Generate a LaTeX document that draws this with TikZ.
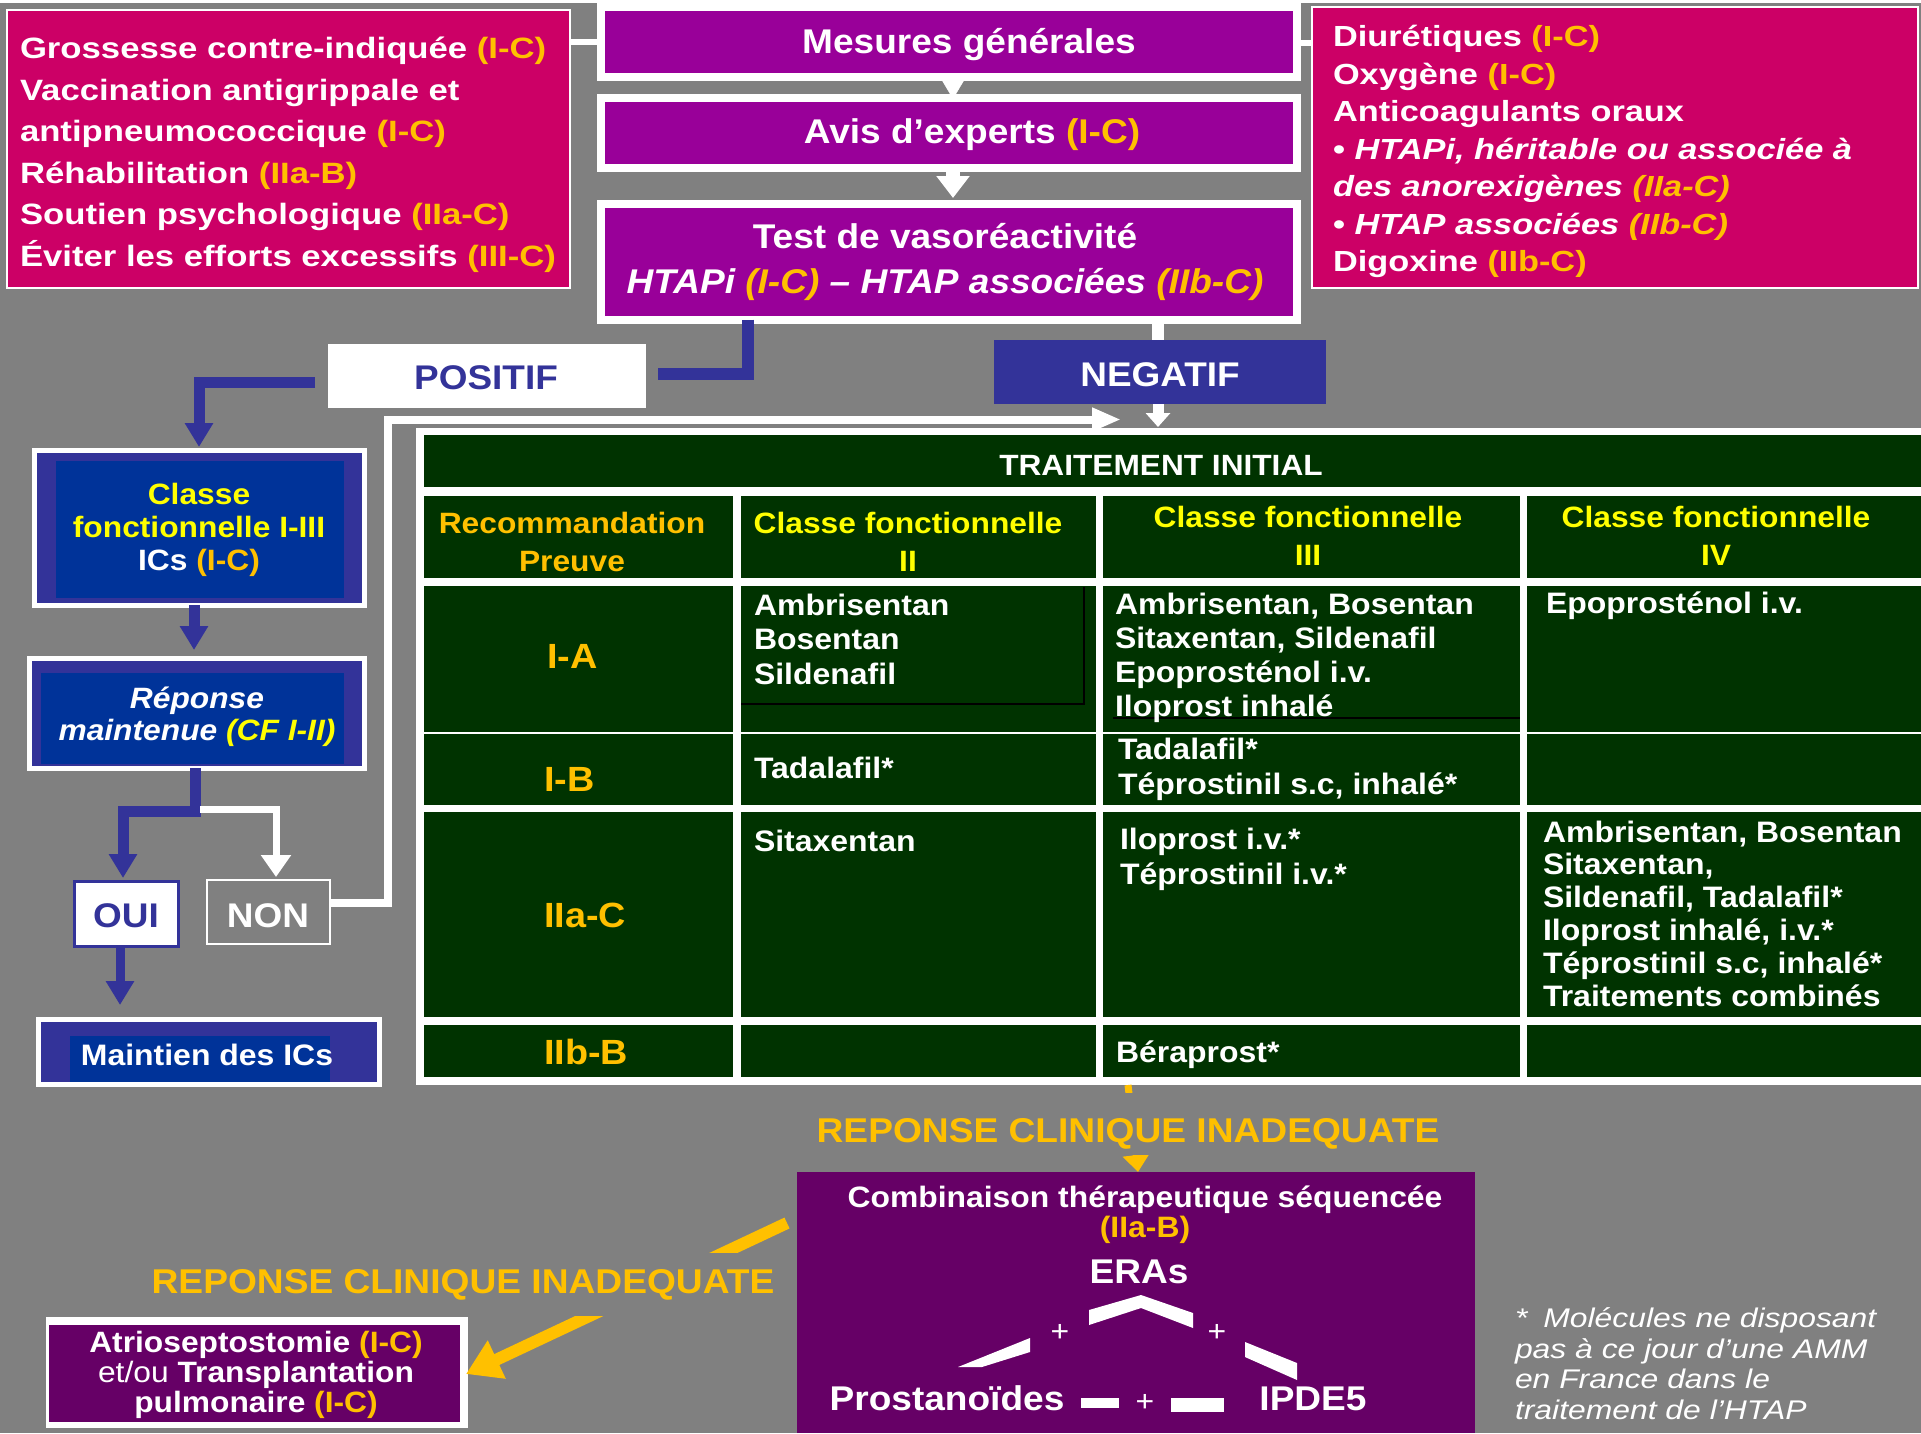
\documentclass[tikz,border=0pt]{standalone}
\usepackage{fontspec}
\setmainfont{Liberation Sans}[FakeStretch=1.08]
\newfontfamily\wfont{Liberation Sans}[FakeStretch=1.18]
\usetikzlibrary{arrows.meta,calc}
\definecolor{bgg}{HTML}{808080}
\definecolor{pnk}{HTML}{CC0066}
\definecolor{pur}{HTML}{990099}
\definecolor{dpur}{HTML}{660066}
\definecolor{bl}{HTML}{333399}
\definecolor{dbl}{HTML}{003399}
\definecolor{grn}{HTML}{003300}
\definecolor{og}{HTML}{FFC000}
\definecolor{yl}{HTML}{FFFF00}
\newcommand\gold[1]{\textcolor{og}{#1}}
\newcommand\fsz[2]{\fontsize{#1}{#2}\selectfont}
\newcommand\Lstk[1]{\vtop{\lineskiplimit=-100pt\lineskip=0pt\halign{##\hfil\cr#1\crcr}}}
\newcommand\Cstk[1]{\vtop{\lineskiplimit=-100pt\lineskip=0pt\halign{\hfil##\hfil\cr#1\crcr}}}
\tikzset{
  boxframe/.style={draw=white, inner sep=0pt, outer sep=0pt, anchor=north west},
  txt/.style={inner sep=0pt, outer sep=0pt, text=white},
  bline/.style={draw=bl, line width=12pt},
  barrow/.style={draw=bl, line width=11pt, -{Triangle[width=27pt,length=24pt]}},
  wline/.style={draw=white, line width=8pt},
  cellA/.style={txt, anchor=base west, font=\fsz{29.6}{34.5}\bfseries},
}
\begin{document}
\begin{tikzpicture}[x=1pt,y=-1pt]
\useasboundingbox (0,0) rectangle (1921,1433);
\fill[bgg] (0,0) rectangle (1921,1433);
\fill[white] (0,0) rectangle (1921,2.5);

% ---------- top boxes
\node[boxframe, line width=2pt, fill=pnk, minimum width=563pt, minimum height=278pt] (lp) at (7,10) {};
\node[boxframe, line width=2pt, fill=pnk, minimum width=606pt, minimum height=281pt] (rp) at (1312,7) {};
\node[boxframe, line width=8pt, fill=pur, minimum width=696pt, minimum height=70pt] (mes) at (601,7) {};
\node[boxframe, line width=8pt, fill=pur, minimum width=696pt, minimum height=70pt] (avis) at (601,98) {};
\node[boxframe, line width=8pt, fill=pur, minimum width=696pt, minimum height=115.5pt] (test) at (601,204) {};

\draw[wline, line width=6pt] ($(lp.north east)+(0,32)$) -- ($(mes.north west)+(0,35)$);
\draw[wline, line width=6pt] ($(mes.north east)+(0,36)$) -- ($(rp.north west)+(0,36)$);
\draw[white, line width=0.5pt, -{Triangle[width=26pt,length=22pt]}] ($(mes.south west)+(352,0)$) -- ($(avis.north west)+(352,1)$);
\draw[white, line width=14pt, -{Triangle[width=32pt,length=22pt]}] ($(avis.south west)+(352,0)$) -- ($(test.north west)+(352,-6)$);

% ---------- positif / negatif
\node[boxframe, draw=none, fill=white, minimum width=318pt, minimum height=64pt] (pos) at (328,344) {};
\node[boxframe, draw=none, fill=bl, minimum width=332pt, minimum height=64pt] (neg) at (994,340) {};

% ---------- left column boxes
\node[boxframe, line width=5pt, fill=bl, minimum width=330pt, minimum height=155pt] (cls) at (34,450) {};
\fill[dbl] (56,461) rectangle (344,598);
\node[boxframe, line width=5pt, fill=bl, minimum width=335pt, minimum height=110pt] (rep) at (29,658) {};
\fill[dbl] (41,673) rectangle (344,764);
\node[boxframe, draw=bl, line width=3pt, fill=white, minimum width=104pt, minimum height=65pt] (oui) at (74,881) {};
\node[boxframe, line width=2.5pt, fill=bgg, minimum width=123pt, minimum height=64pt] (non) at (207,880) {};
\node[boxframe, line width=5pt, fill=bl, minimum width=341pt, minimum height=65pt] (mnt) at (38,1019.5) {};
\fill[dbl] (70,1036) rectangle (330,1082);

% ---------- table
\node[boxframe, draw=none, fill=white, minimum width=1505pt, minimum height=657pt] (tab) at (416,428) {};
\fill[grn] (424,435) rectangle (1921,487);
\foreach \ya/\yb in {496/578, 586/732, 734/805, 812/1017, 1025/1077}{
  \fill[grn] (424,\ya) rectangle (733,\yb);
  \fill[grn] (741,\ya) rectangle (1096,\yb);
  \fill[grn] (1103,\ya) rectangle (1520,\yb);
  \fill[grn] (1527,\ya) rectangle (1921,\yb);
}
\draw[black, line width=2pt] (741,704) -- (1084,704) -- (1084,587);
\draw[black, line width=2pt] (1113,718) -- (1520,718);

% ---------- connectors
\draw[bline] ($(test.south west)+(147,0)$) |- ($(pos.east)+(12,-2)$);
\draw[barrow, line width=11pt] ($(pos.west)+(-13,6.5)$) -| ($(cls.north west)+(165,-3)$);
\draw[barrow] ($(cls.south west)+(160,0)$) -- ($(rep.north west)+(165,-8)$);
\draw[barrow] ($(rep.south west)+(166,0)$) -- ++(0,43) -| ($(oui.north west)+(49,-3)$);
\draw[white, line width=7pt, -{Triangle[width=29pt,length=22pt]}] ($(rep.south west)+(171,41.5)$) -| ($(non.north west)+(69,-3)$);
\draw[barrow, line width=9pt] ($(oui.south west)+(46,0)$) -- ($(mnt.north west)+(82,-14.5)$);
\coordinate (ntip) at (1121,419.5);
\draw[white, line width=8pt, -{Triangle[width=22pt,length=29pt]}] ($(non.north east)+(0,23)$) -- ++(58,0) |- (ntip);
\draw[white, line width=12pt] ($(test.south west)+(557,0)$) -- ($(neg.north west)+(164,0)$);
\draw[white, line width=11pt, -{Triangle[width=24pt,length=14pt]}] ($(neg.south west)+(164,0)$) -- ($(tab.north west)+(742,-1)$);

% ---------- bottom boxes
\node[boxframe, draw=none, fill=dpur, minimum width=678pt, minimum height=261pt] (combo) at (797,1172) {};
\node[boxframe, draw=none, fill=white, minimum width=422pt, minimum height=111pt] (atr) at (46,1317) {};
\fill[dpur] (49,1325) rectangle (460,1422);

\draw[og, line width=7pt, -{Triangle[width=26pt,length=17pt]}] ($(tab.south west)+(712,0)$) -- ($(combo.north west)+(341,0)$);
\node[txt, anchor=base, text=og, fill=bgg, inner xsep=4pt, inner ysep=4pt, text height=45pt, text depth=9pt, font=\fsz{34.4}{40}\bfseries] (rci1) at (1128,1142) {REPONSE CLINIQUE INADEQUATE};
\draw[og, line width=12pt, -{Triangle[width=40pt,length=34pt]}] ($(combo.north west)+(-10,51)$) -- ($(atr.north east)+(-2,57)$);
\node[txt, anchor=base, text=og, fill=bgg, inner xsep=4pt, inner ysep=4pt, text height=36pt, text depth=19pt, font=\fsz{34.4}{40}\bfseries] (rci2) at (463,1293) {REPONSE CLINIQUE INADEQUATE};

% chevrons in combination box
\fill[white] (1089,1310) -- (1141,1295) -- (1193,1313) -- (1193,1328) -- (1141,1308) -- (1089,1325) -- cycle;
\fill[white] (958,1367) -- (1030,1338) -- (1030,1352) -- (982,1367) -- cycle;
\fill[white] (1245,1342) -- (1297,1363) -- (1297,1380) -- (1245,1357) -- cycle;
\fill[white] (1081,1398) rectangle (1119,1408);
\fill[white] (1171,1398) rectangle (1224,1412);

% ---------- texts
\node[txt, anchor=base west, font=\wfont\fsz{29.4}{41.6}\bfseries] (lpt) at (20,58.5) {\Lstk{Grossesse contre-indiquée \gold{(I-C)}\cr Vaccination antigrippale et\cr antipneumococcique \gold{(I-C)}\cr Réhabilitation \gold{(IIa-B)}\cr Soutien psychologique \gold{(IIa-C)}\cr Éviter les efforts excessifs \gold{(III-C)}}};
\node[txt, anchor=base west, font=\wfont\fsz{29.1}{37.5}\bfseries] (rpt) at (1333,46.7) {\Lstk{Diurétiques \gold{(I-C)}\cr Oxygène \gold{(I-C)}\cr Anticoagulants oraux\cr • \textit{HTAPi, héritable ou associée à}\cr \textit{des anorexigènes \gold{(IIa-C)}}\cr • \textit{HTAP associées \gold{(IIb-C)}}\cr Digoxine \gold{(IIb-C)}}};
\node[txt, anchor=base, font=\fsz{34.3}{40}\bfseries] (mest) at (969,53) {Mesures générales};
\node[txt, anchor=base, font=\fsz{34.3}{40}\bfseries] (avist) at (972,143.3) {Avis d’experts \gold{(I-C)}};
\node[txt, anchor=base, font=\fsz{34.3}{45}\bfseries] (testt) at (945,248.3) {\Cstk{Test de vasoréactivité\cr \textit{HTAPi \gold{(I-C)} – HTAP associées \gold{(IIb-C)}}}};
\node[txt, anchor=base, text=bl, font=\fsz{34.2}{40}\bfseries] (post) at (486,389) {POSITIF};
\node[txt, anchor=base, font=\fsz{34.2}{40}\bfseries] (negt) at (1160,386) {NEGATIF};
\node[txt, anchor=base, font=\fsz{29.4}{33}\bfseries] (clst) at (199,504) {\Cstk{\textcolor{yl}{Classe}\cr \textcolor{yl}{fonctionnelle I-III}\cr ICs \gold{(I-C)}}};
\node[txt, anchor=base, font=\fsz{29.4}{32}\bfseries\itshape] (rept) at (197,708.6) {\Cstk{Réponse\cr maintenue \textcolor{yl}{(CF I-II)}}};
\node[txt, anchor=base, text=bl, font=\fsz{34.2}{40}\bfseries] (ouit) at (126,927) {OUI};
\node[txt, anchor=base, font=\fsz{34.2}{40}\bfseries] (nont) at (268,927) {NON};
\node[txt, anchor=base, font=\fsz{29.6}{34}\bfseries] (mntt) at (207,1065.6) {Maintien des ICs};

% table texts
\node[txt, anchor=base, font=\fsz{29.3}{34}\bfseries] (tit) at (1161,475.5) {TRAITEMENT INITIAL};
\node[txt, anchor=base, text=og, font=\fsz{29.4}{38}\bfseries] (h1) at (572,533) {\Cstk{Recommandation\cr Preuve}};
\node[txt, anchor=base, text=yl, font=\fsz{29.4}{38}\bfseries] (h2) at (908,533) {\Cstk{Classe fonctionnelle\cr II}};
\node[txt, anchor=base, text=yl, font=\fsz{29.4}{38}\bfseries] (h3) at (1308,527) {\Cstk{Classe fonctionnelle\cr III}};
\node[txt, anchor=base, text=yl, font=\fsz{29.4}{38}\bfseries] (h4) at (1716,527) {\Cstk{Classe fonctionnelle\cr IV}};
\node[txt, anchor=base west, text=og, font=\fsz{35}{40}\bfseries] (ra) at (547,668.6) {I-A};
\node[txt, anchor=base west, text=og, font=\fsz{35}{40}\bfseries] (rb) at (544,791) {I-B};
\node[txt, anchor=base west, text=og, font=\fsz{35}{40}\bfseries] (rc) at (544,927) {IIa-C};
\node[txt, anchor=base west, text=og, font=\fsz{35}{40}\bfseries] (rd) at (544,1064) {IIb-B};
\node[cellA] (c2a) at (754,615) {\Lstk{Ambrisentan\cr Bosentan\cr Sildenafil}};
\node[cellA, font=\fsz{29.6}{34.3}\bfseries] (c3a) at (1115,614) {\Lstk{Ambrisentan, Bosentan\cr Sitaxentan, Sildenafil\cr Epoprosténol i.v.\cr Iloprost inhalé}};
\node[cellA] (c4a) at (1546,613) {Epoprosténol i.v.};
\node[cellA] (c2b) at (754,778) {Tadalafil*};
\node[cellA, font=\fsz{29.6}{35}\bfseries] (c3b) at (1118,759) {\Lstk{Tadalafil*\cr Téprostinil s.c, inhalé*}};
\node[cellA] (c2c) at (754,851) {Sitaxentan};
\node[cellA, font=\fsz{29.6}{35}\bfseries] (c3c) at (1120,849) {\Lstk{Iloprost i.v.*\cr Téprostinil i.v.*}};
\node[cellA, font=\fsz{29.6}{32.8}\bfseries] (c4c) at (1543,842) {\Lstk{Ambrisentan, Bosentan\cr Sitaxentan,\cr Sildenafil, Tadalafil*\cr Iloprost inhalé, i.v.*\cr Téprostinil s.c, inhalé*\cr Traitements combinés}};
\node[cellA] (c3d) at (1116,1062) {Béraprost*};

% combination texts
\node[txt, anchor=base, font=\fsz{29.5}{30}\bfseries] (cbt) at (1145,1207) {\Cstk{Combinaison thérapeutique séquencée\cr \gold{(IIa-B)}}};
\node[txt, anchor=base, font=\fsz{34.3}{40}\bfseries] (era) at (1139,1283) {ERAs};
\node[txt, anchor=base, font=\fsz{34.3}{40}\bfseries] (pros) at (947,1410) {Prostanoïdes};
\node[txt, anchor=base, font=\fsz{34.3}{40}\bfseries] (ipde) at (1313,1410) {IPDE5};
\node[txt, font=\fsz{29.5}{30}] (pl1) at (1060,1333) {+};
\node[txt, font=\fsz{29.5}{30}] (pl2) at (1217,1333) {+};
\node[txt, font=\fsz{29.5}{30}] (pl3) at (1145,1403) {+};

\node[txt, anchor=base, font=\fsz{29.4}{30}\bfseries] (atrt) at (256,1352) {\Cstk{Atrioseptostomie \gold{(I-C)}\cr {\mdseries et/ou} Transplantation\cr pulmonaire \gold{(I-C)}}};

\node[txt, anchor=base west, font=\wfont\fsz{27}{30.5}\itshape] (foot) at (1515,1327.5) {\Lstk{*\hspace{16pt}Molécules ne disposant\cr pas à ce jour d’une AMM\cr en France dans le\cr traitement de l’HTAP}};
\end{tikzpicture}
\end{document}
